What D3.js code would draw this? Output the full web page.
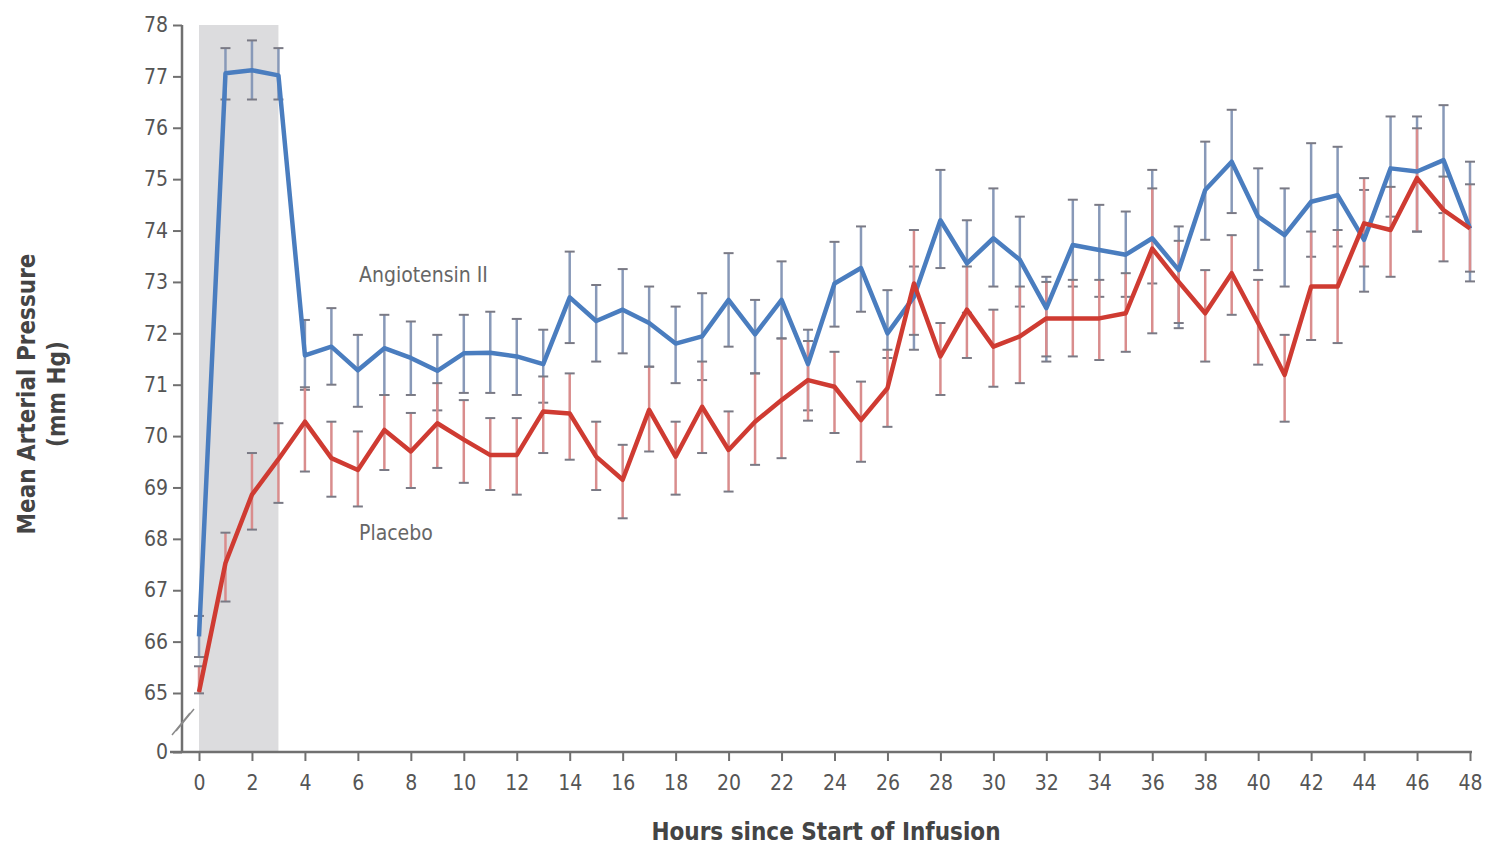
<!DOCTYPE html>
<html>
<head>
<meta charset="utf-8">
<script src="https://cdn.jsdelivr.net/npm/d3@7"></script>
<style>
  body { margin: 0; background: #fff; }
  svg text { font-family: "Liberation Sans Narrow", "DejaVu Sans Condensed", "Open Sans", sans-serif; }
</style>
</head>
<body>
<div id="chart"></div>
<script>
// Data
var hours = [0,1,2,3,4,5,6,7,8,9,10,11,12,13,14,15,16,17,18,19,20,21,22,23,24,
             25,26,27,28,29,30,31,32,33,34,35,36,37,38,39,40,41,42,43,44,45,46,47,48];

var angioMean = [66.1,77.06,77.12,77.02,71.57,71.74,71.28,71.71,71.52,71.27,71.61,71.62,71.55,71.4,72.7,
                 72.24,72.46,72.2,71.8,71.94,72.65,71.98,72.65,71.4,72.97,73.27,72.0,72.71,74.2,73.36,
                 73.85,73.43,72.49,73.72,73.62,73.53,73.85,73.23,74.79,75.34,74.27,73.91,74.56,74.69,
                 73.82,75.21,75.15,75.37,74.04];
var angioLow  = [65.7,76.55,76.55,76.55,70.9,71.0,70.57,70.8,70.8,70.5,70.84,70.84,70.8,70.65,71.81,
                 71.45,71.61,71.35,71.03,71.09,71.74,71.22,71.9,70.5,72.13,72.42,71.52,71.68,73.27,72.4,
                 72.91,72.52,71.45,72.91,72.71,72.71,72.97,72.1,73.82,74.34,73.23,72.91,73.49,73.69,
                 72.81,74.27,73.98,74.34,73.01];
var angioHigh = [66.5,77.55,77.7,77.55,72.26,72.49,71.97,72.36,72.23,71.97,72.36,72.42,72.28,72.07,73.59,
                 72.94,73.25,72.91,72.52,72.78,73.56,72.65,73.4,72.07,73.78,74.08,72.84,73.3,75.18,74.2,
                 74.82,74.27,73.1,74.6,74.5,74.37,75.18,74.08,75.73,76.35,75.21,74.82,75.7,75.63,
                 74.79,76.22,76.22,76.44,75.34];

var placeboMean = [65.02,67.53,68.86,69.55,70.28,69.57,69.34,70.12,69.7,70.25,69.93,69.63,69.63,70.48,70.44,
                   69.6,69.15,70.51,69.6,70.57,69.73,70.28,70.7,71.09,70.96,70.31,70.93,72.97,71.55,72.46,
                   71.74,71.94,72.29,72.29,72.29,72.39,73.65,73.0,72.39,73.17,72.2,71.19,72.91,72.91,
                   74.14,74.01,75.02,74.4,74.04];
var placeboLow  = [64.6,66.78,68.18,68.7,69.31,68.82,68.63,69.34,68.99,69.38,69.09,68.95,68.86,69.67,69.54,
                   68.95,68.4,69.7,68.86,69.67,68.92,69.44,69.57,70.3,70.06,69.5,70.18,71.97,70.8,71.52,
                   70.96,71.03,71.55,71.55,71.48,71.64,72.0,72.2,71.45,72.36,71.39,70.28,71.87,71.81,
                   73.3,73.1,73.98,73.4,73.2];
var placeboHigh = [65.52,68.12,69.67,70.25,70.95,70.28,70.09,70.8,70.45,71.03,70.7,70.35,70.35,71.16,71.22,
                   70.28,69.83,71.35,70.28,71.45,70.48,71.22,71.9,71.85,71.64,71.06,71.68,74.01,72.2,73.3,
                   72.46,72.91,73.0,73.04,73.04,73.17,74.82,73.8,73.23,73.91,73.04,71.97,73.98,74.01,
                   75.02,74.85,75.99,75.05,74.9];

var yTicks = [0,65,66,67,68,69,70,71,72,73,74,75,76,77,78];
var xTicks = [0,2,4,6,8,10,12,14,16,18,20,22,24,26,28,30,32,34,36,38,40,42,44,46,48];
var infusionHours = [0, 3];

var width = 1487, height = 846;

var svg = d3.select("#chart").append("svg")
    .attr("width", width)
    .attr("height", height);

// Scales: broken y axis, 0 sits below the 65-78 band
var x = d3.scaleLinear().domain([0, 48]).range([199, 1470]);
var y = d3.scaleLinear().domain([0, 65, 78]).range([752, 693, 25]);

var axisColor = "#707070";

// Infusion period band
svg.append("rect")
    .attr("x", x(infusionHours[0]))
    .attr("y", y(78))
    .attr("width", x(infusionHours[1]) - x(infusionHours[0]))
    .attr("height", y(0) - y(78))
    .attr("fill", "#dcdcde");

// Y axis
var yAxis = svg.append("g")
    .attr("transform", "translate(182,0)")
    .call(d3.axisLeft(y).tickValues(yTicks).tickSize(9).tickPadding(5).tickFormat(d3.format("d")));
yAxis.select(".domain").attr("stroke", axisColor).attr("stroke-width", 2.5)
    .attr("d", "M0," + y(78) + "V" + y(0));
yAxis.selectAll(".tick line").attr("stroke", axisColor).attr("stroke-width", 2);
yAxis.selectAll(".tick text").attr("fill", "#555").style("font-size", "21px");

// X axis
var xAxis = svg.append("g")
    .attr("transform", "translate(0," + y(0) + ")")
    .call(d3.axisBottom(x).tickValues(xTicks).tickSize(9).tickPadding(14));
xAxis.select(".domain").attr("stroke", axisColor).attr("stroke-width", 2.5)
    .attr("d", "M170,0H" + (x(48) + 2));
xAxis.selectAll(".tick line").attr("stroke", axisColor).attr("stroke-width", 2);
xAxis.selectAll(".tick text").attr("fill", "#555").style("font-size", "21px");

// Axis break marks
[0, 4].forEach(function (off) {
    svg.append("line")
        .attr("x1", 172 + off).attr("y1", 735 - off)
        .attr("x2", 190 + off).attr("y2", 713 - off)
        .attr("stroke", "#8a8a8a").attr("stroke-width", 1.5);
});

// Series
var series = [
    {name: "Angiotensin II", mean: angioMean, low: angioLow, high: angioHigh,
     color: "#4a7dbf", barColor: "#8899b8"},
    {name: "Placebo", mean: placeboMean, low: placeboLow, high: placeboHigh,
     color: "#cf3b32", barColor: "#d98d8d"}
];

series.forEach(function (s) {
    var rows = hours.map(function (h, i) {
        return {h: h, mean: s.mean[i], low: s.low[i], high: s.high[i]};
    });
    var g = svg.append("g");
    g.selectAll("line.bar")
        .data(rows)
        .join("line")
        .attr("x1", function (d) { return x(d.h); })
        .attr("x2", function (d) { return x(d.h); })
        .attr("y1", function (d) { return y(d.low); })
        .attr("y2", function (d) { return y(d.high); })
        .attr("stroke", s.barColor)
        .attr("stroke-width", 2.5);
    ["low", "high"].forEach(function (k) {
        g.selectAll("line.cap" + k)
            .data(rows)
            .join("line")
            .attr("x1", function (d) { return x(d.h) - 5; })
            .attr("x2", function (d) { return x(d.h) + 5; })
            .attr("y1", function (d) { return y(d[k]); })
            .attr("y2", function (d) { return y(d[k]); })
            .attr("stroke", "#7a7a85")
            .attr("stroke-width", 2);
    });
});

series.forEach(function (s) {
    var line = d3.line()
        .x(function (d, i) { return x(hours[i]); })
        .y(function (d) { return y(d); });
    svg.append("path")
        .datum(s.mean)
        .attr("d", line)
        .attr("fill", "none")
        .attr("stroke", s.color)
        .attr("stroke-width", 4.5)
        .attr("stroke-linejoin", "round");
});

// Series labels
svg.append("text").attr("x", 359).attr("y", 282)
    .attr("fill", "#666").style("font-size", "21px").text("Angiotensin II");
svg.append("text").attr("x", 359).attr("y", 540)
    .attr("fill", "#666").style("font-size", "21px").text("Placebo");

// Axis titles
svg.append("text")
    .attr("transform", "translate(35,394) rotate(-90)")
    .attr("text-anchor", "middle")
    .attr("fill", "#444").style("font-size", "24px").style("font-weight", "bold")
    .text("Mean Arterial Pressure");
svg.append("text")
    .attr("transform", "translate(65,394) rotate(-90)")
    .attr("text-anchor", "middle")
    .attr("fill", "#444").style("font-size", "24px").style("font-weight", "bold")
    .text("(mm Hg)");
svg.append("text")
    .attr("x", 826).attr("y", 840)
    .attr("text-anchor", "middle")
    .attr("fill", "#444").style("font-size", "24px").style("font-weight", "bold")
    .text("Hours since Start of Infusion");
</script>
</body>
</html>
